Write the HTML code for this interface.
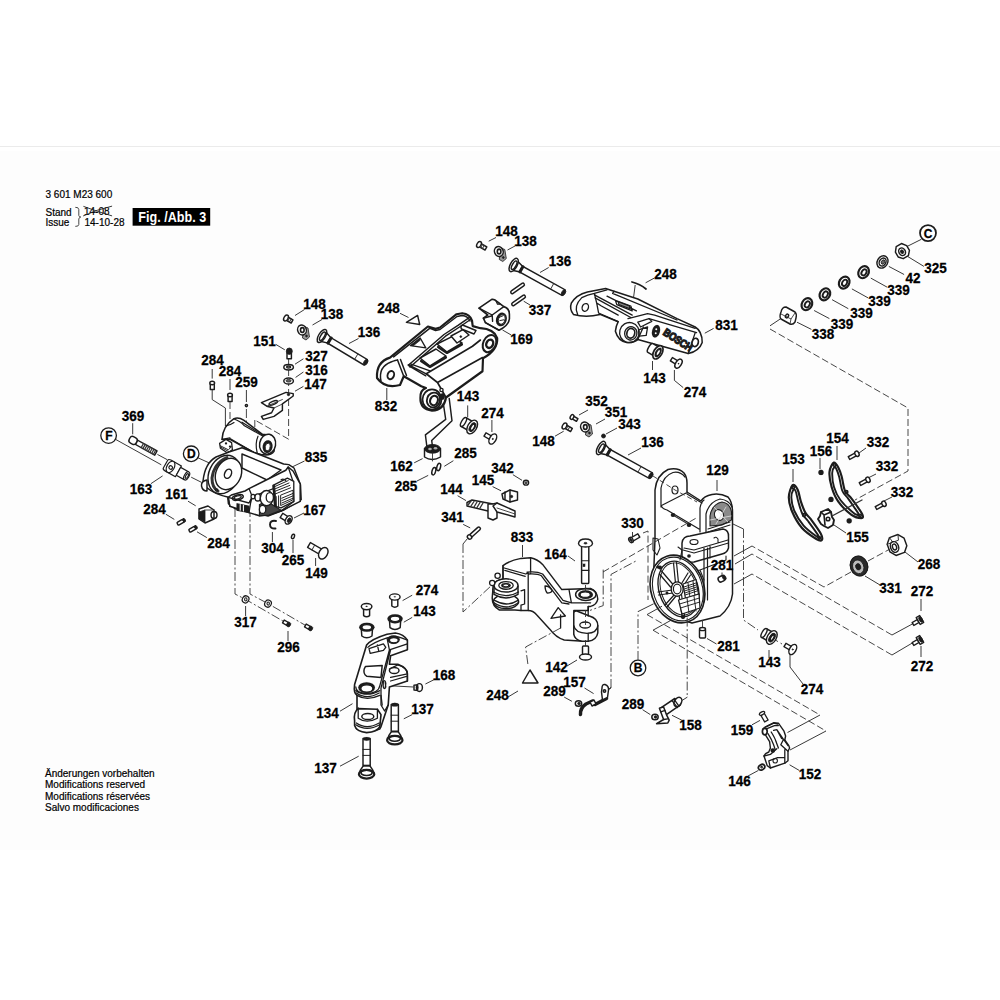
<!DOCTYPE html>
<html><head><meta charset="utf-8"><style>
html,body{margin:0;padding:0;background:#fff;width:1000px;height:1000px;overflow:hidden}
#bg{position:absolute;left:0;top:151px;width:1000px;height:699px;background:#fdfdfd}
#hl{position:absolute;left:0;top:146px;width:1000px;height:1px;background:#ebebeb}
svg{position:absolute;left:0;top:0}
.lb text{font-family:"Liberation Sans",sans-serif;font-weight:bold;font-size:13.5px;text-anchor:middle;fill:#000;stroke:#000;stroke-width:0.25}
.rg{font-family:"Liberation Sans",sans-serif;font-size:10px;fill:#000;stroke:#000;stroke-width:0.2}
.p{fill:#fff;stroke:#1c1c1c;stroke-width:1.45;stroke-linejoin:round;stroke-linecap:round}
.q{fill:none;stroke:#1c1c1c;stroke-width:1.45;stroke-linejoin:round;stroke-linecap:round}
.t{fill:none;stroke:#333;stroke-width:0.9;stroke-linecap:round}
.k{fill:#1c1c1c;stroke:#1c1c1c;stroke-width:0.8}
.g{fill:#666;stroke:#1c1c1c;stroke-width:0.8}
.l{fill:none;stroke:#222;stroke-width:0.9}
.d{fill:none;stroke:#333;stroke-width:0.9;stroke-dasharray:7 3}
.dd{fill:none;stroke:#333;stroke-width:0.9;stroke-dasharray:9 2.5 2 2.5}
.ci{fill:#fff;stroke:#1c1c1c;stroke-width:1.3}
.cl{font-family:"Liberation Sans",sans-serif;font-weight:bold;font-size:12px;text-anchor:middle;fill:#000;stroke:#000;stroke-width:0.3}
</style></head><body>
<div id="bg"></div><div id="hl"></div>
<svg width="1000" height="1000" viewBox="0 0 1000 1000">
<g class="rg">
<text x="45.5" y="198">3 601 M23 600</text>
<text x="45.5" y="216">Stand</text>
<text x="45.5" y="226">Issue</text>
<text x="84" y="215">14-08</text>
<text x="84.5" y="226">14-10-28</text>
<text x="45" y="776.5">Änderungen vorbehalten</text>
<text x="45" y="788">Modifications reserved</text>
<text x="45" y="799.5">Modifications réservées</text>
<text x="45" y="811">Salvo modificaciones</text>
</g>
<path class="t" style="stroke:#222;stroke-width:0.9" d="M83.5 215.8 Q97 209.5 111.7 206.2 M83.8 206.5 Q97 211.5 111.7 215.8" />
<path class="t" style="stroke-width:0.9" d="M75.7 207.3 Q78.6 207 78.8 209.5 L78.8 215.5 Q79 217 80.8 217 Q79 217.4 78.8 219 L78.8 224.5 Q78.6 226.6 75.7 226.4" />
<rect x="132.6" y="208" width="77.6" height="17.7" fill="#000"/>
<text transform="translate(172.2 221.6) scale(0.97 1.08)" font-family="Liberation Sans" font-weight="bold" font-size="13" fill="#fff" text-anchor="middle">Fig. /Abb. 3</text>
<!-- 10_left.svg -->
<!-- circles F, D -->
<circle class="ci" cx="108.6" cy="435.6" r="7.8"/><text class="cl" x="108.8" y="439.6">F</text>
<circle class="ci" cx="191.2" cy="453.8" r="7.8"/><text class="cl" x="191.4" y="457.8">D</text>
<!-- leaders -->
<path class="l" d="M115.8 439.5 L161.3 464.8 M191.2 477.2 L201.6 482.4 M157.4 454.4 L167.1 459.6 M132.7 423.2 V434.3 M150.9 483.7 L162.6 475.9 M197.7 457.7 L212 464.2 M188 501.2 L195.7 505.8 M165.8 514.2 L174.3 519.4 M197 531.8 L206.8 537.6"/>
<!-- bolt 369 -->
<g transform="translate(132.7 440.2) rotate(29)">
<rect class="p" x="-3.5" y="-3.6" width="8" height="7.2" rx="3"/>
<rect class="p" x="4.5" y="-2.4" width="22" height="4.8"/>
<path class="t" style="stroke-width:1.22" d="M11 -2.4 V2.4 M13 -2.4 V2.4 M15 -2.4 V2.4 M17 -2.4 V2.4 M19 -2.4 V2.4 M21 -2.4 V2.4 M23 -2.4 V2.4 M25 -2.4 V2.4"/>
</g>
<!-- 163 -->
<g transform="translate(177 470.5) rotate(29) scale(0.82)">
<path class="p" d="M-16 -5.5 Q-16 -7.5 -12 -7.5 L2 -7.5 L2 7.5 L-12 7.5 Q-16 7.5 -16 5.5 Z"/>
<ellipse class="p" cx="-9" cy="0" rx="4.5" ry="7.5"/>
<circle class="q" cx="-8.5" cy="0.5" r="2.2"/>
<path class="p" d="M2 -5.5 L13 -5.5 L13 5.5 L2 5.5 Z"/>
<ellipse class="p" cx="13.5" cy="0" rx="2.8" ry="5.5"/>
<ellipse class="q" cx="13.8" cy="0" rx="1.4" ry="3.2"/>
</g>
<!-- 161 -->
<path class="p" d="M199 509 L208 506 L214 510 L214 519 L205 523 L199 519 Z"/>
<path class="k" d="M199 512 L205 510 L205 522 L199 519 Z"/>
<ellipse class="q" cx="214" cy="515" rx="3" ry="3.5"/>
<path class="t" d="M205 510 L214 510"/>
<!-- 284 small screws -->
<g transform="translate(181 522) rotate(-30)"><rect class="p" x="-4" y="-1.6" width="7" height="3.2" rx="1"/><ellipse class="k" cx="3.5" cy="0" rx="1.3" ry="2"/></g>
<g transform="translate(192.8 529) rotate(-30)"><rect class="p" x="-4" y="-1.6" width="7" height="3.2" rx="1"/><ellipse class="k" cx="3.5" cy="0" rx="1.3" ry="2"/></g>

<!-- 20_body835.svg -->
<!-- construction lines -->
<path class="l" d="M212.2 369 V378.6 M230 379 V390 M246.4 390 V402 M212.2 390 V399.6 L225.4 408 V426"/>
<path class="d" d="M230 402 V452 M254.8 420 V500 M288.6 359 V439.2 L254.8 420"/>
<path class="dd" d="M246.4 409 V505 M235 508 V594 L245.6 599.4 L288 624 M250 508 V594 L268 603.6 L310 628"/>
<!-- leaders -->
<path class="l" d="M275.8 344.4 L284.8 349.8 M295 364.2 L303.4 358.8 M295.6 377.4 L303.4 372 M295 391.2 L303.4 386.4 M294 518 L304 513 M272.4 532 V542 M293 540 V553 M315.6 558 V566 M245.6 606 V616 M288 631 V641 M290 468 L304.5 461"/>
<!-- top screws 284, dot 259 -->
<path class="p" d="M210.3 384 h4 v5.5 h-4 z"/><ellipse class="p" cx="212.2" cy="383" rx="2.4" ry="1.8"/>
<path class="p" d="M228.1 396 h4 v5.5 h-4 z"/><ellipse class="p" cx="230" cy="395" rx="2.4" ry="1.8"/>
<circle class="q" cx="246.4" cy="405.6" r="1.1"/>
<!-- stack 151 327 316 -->
<rect class="p" x="287" y="353" width="4.4" height="5.8"/>
<ellipse class="k" cx="289.3" cy="351.2" rx="3" ry="3.2"/>
<ellipse class="p" cx="288.6" cy="367.2" rx="4.8" ry="2.7"/><ellipse class="q" cx="288.6" cy="367" rx="2" ry="1"/>
<ellipse class="p" cx="288.6" cy="381" rx="4.8" ry="3"/><ellipse class="g" cx="288.6" cy="380.8" rx="2.5" ry="1.3"/>
<!-- bracket 147 -->
<path class="p" d="M261.4 402.6 L286 392.4 L293.2 393.6 L293.2 396 L282.4 403.8 L282.4 410.4 L274 416.4 L263.2 419.4 L261.4 416.4 L271.6 412.8 L274 408 L266.8 406.2 Z"/>
<ellipse class="q" cx="273.3" cy="402.9" rx="4.5" ry="1.6" transform="rotate(-22 273.3 402.9)"/>
<circle class="k" cx="288.5" cy="394.5" r="1.2"/>
<path class="t" d="M266.8 406.2 L282.4 399.5 M274 408 L282.4 404"/>
<!-- cylinder -->
<g transform="translate(210 405) scale(0.08)">
<path class="p" style="stroke-width:18.90" d="M150 430 Q160 260 300 170 Q360 150 420 190 L660 370 Q780 360 810 460 L800 580 Q760 640 640 620 L560 600 L250 430 Z"/>
<path class="q" style="stroke-width:14.85" d="M250 420 L580 610 M200 260 Q260 250 300 220 M300 175 Q380 200 430 260 L680 400 M150 430 L250 410"/>
<path class="q" style="stroke-width:16.20" d="M400 215 L670 385"/>
<ellipse class="p" style="stroke-width:18.90" cx="720" cy="490" rx="100" ry="125" transform="rotate(10 720 490)"/>
<path class="q" style="stroke-width:14.85" d="M600 390 Q560 480 590 600"/>
<ellipse class="k" cx="720" cy="520" rx="62" ry="80" transform="rotate(10 720 520)"/>
<ellipse class="p" style="stroke-width:10.80" cx="722" cy="525" rx="32" ry="48" transform="rotate(10 722 525)"/>
<path class="p" style="stroke-width:16.20" d="M120 480 L200 430 L270 470 L280 560 L220 600 L130 540 Z"/>
<path class="q" style="stroke-width:12.15" d="M130 510 L230 560 L270 520 M140 530 L230 580"/>
<circle class="k" cx="200" cy="480" r="14"/><circle class="k" cx="250" cy="520" r="14"/>
</g>
<!-- frame 835 -->
<path class="p" d="M203 481 Q205 463 216 457 L229 452 L242 447.7 L283.6 464 L288.8 464.6 L294 468 L300.5 484.8 L301.2 499.7 L283.6 510 L268 516 L249.8 511.4 L235.5 508.8 L228.4 503.6 L227.7 497 Q214 494 206 487 Z"/>
<path class="q" d="M242 454 L281 470 L267 480 L242 468 Z"/>
<path class="p" d="M207 480 Q201 481 201.5 486 Q202.5 491 207 491 Z"/>
<ellipse class="p" cx="224" cy="474.5" rx="15" ry="20" transform="rotate(25 224 474.5)"/>
<path class="q" style="stroke-width:2.97;stroke:#333" d="M227 457.5 Q214 463 212 478 Q212 488 218 491"/>
<ellipse class="p" cx="228.5" cy="474" rx="12.5" ry="16.2" transform="rotate(25 228.5 474)"/>
<ellipse class="q" cx="228" cy="473.8" rx="3.3" ry="4.8" transform="rotate(25 228 473.8)"/>
<circle class="q" style="stroke-width:1.08" cx="216.6" cy="490" r="1.2"/>
<g transform="translate(225 455) scale(0.08)">
<path class="p" style="stroke-width:18.90" d="M40 530 L80 500 L250 450 L300 420 L760 190 L790 150 L850 200 L940 360 L940 580 L700 700 L550 750 L430 760 L300 720 L60 640 Z"/>
<path class="q" style="stroke-width:16.20" d="M300 420 L340 520 L850 330 L790 150 M340 520 L320 600 L300 720 M60 640 L40 530 L300 600 L340 520 M850 330 L860 580 L700 700"/>
<path class="k" style="stroke-width:13.50" d="M150 610 L300 640 L300 720 L150 690 Z"/>
<path class="q" style="stroke:#fff;stroke-width:13.50" d="M190 620 L190 690 M230 630 L230 700"/>
<ellipse class="q" style="stroke-width:18.90" cx="160" cy="530" rx="70" ry="32" transform="rotate(-15 160 530)"/>
<ellipse class="q" style="stroke-width:13.50" cx="160" cy="530" rx="45" ry="18" transform="rotate(-15 160 530)"/>
<path class="g" style="fill:#444;stroke-width:13.50" d="M430 620 Q480 580 560 600 L700 690 L550 750 L430 760 Z"/>
<ellipse class="p" style="stroke-width:16.20" cx="350" cy="520" rx="25" ry="28"/>
<ellipse class="p" style="stroke-width:16.20" cx="410" cy="530" rx="35" ry="45"/>
<ellipse class="p" style="stroke-width:18.90" cx="520" cy="540" rx="80" ry="95"/>
<ellipse class="p" style="stroke-width:16.20" cx="560" cy="530" rx="45" ry="60"/>
<ellipse class="p" style="stroke-width:16.20" cx="470" cy="680" rx="40" ry="50"/>
<path class="p" style="stroke-width:16.20" d="M600 380 L780 290 L860 330 L860 580 L700 660 L620 640 Z"/>
<path class="q" style="stroke-width:12.15" d="M610 400 L790 320 M610 430 L800 350 M610 460 L810 380 M620 490 L820 410 M700 500 L850 440 L850 560 L700 630 Z M710 540 L850 480 M710 570 L850 510 M710 600 L850 540 M640 520 L640 640 M670 510 L670 650"/>
<path class="k" style="stroke-width:10.80" d="M600 380 L620 640 L640 640 L620 375 Z"/>
<path class="q" style="stroke-width:13.50" d="M700 310 Q730 290 760 320"/>
</g>

<!-- 167 304 265 149 -->
<g transform="translate(284 517) rotate(32)"><rect class="p" x="-3" y="-2.5" width="7" height="5"/><ellipse class="p" cx="5.5" cy="0" rx="3" ry="4.6"/><ellipse class="k" cx="6" cy="0" rx="1.5" ry="2.5"/></g>
<path class="q" style="stroke-width:1.89" d="M276 521 Q270 520 270 524.5 Q270 529 275.5 528.5"/>
<ellipse class="q" cx="293" cy="536.4" rx="1.4" ry="2.3" transform="rotate(20 293 536.4)"/>
<g transform="translate(309 545) rotate(30)"><rect class="p" x="0" y="-2.8" width="15" height="5.6"/><path class="t" d="M5 -2.8 V2.8"/><ellipse class="p" cx="16.5" cy="0" rx="4.2" ry="6.2"/></g>
<!-- 317 washers, 296 screws -->
<ellipse class="p" style="stroke-width:1.22" cx="245.6" cy="599.4" rx="3.2" ry="3.6" transform="rotate(30 245.6 599.4)"/><ellipse class="q" style="stroke-width:1.08" cx="245.8" cy="599.4" rx="1.2" ry="1.6"/>
<ellipse class="p" style="stroke-width:1.22" cx="268" cy="603.6" rx="3.2" ry="3.6" transform="rotate(30 268 603.6)"/><ellipse class="q" style="stroke-width:1.08" cx="268.2" cy="603.6" rx="1.2" ry="1.6"/>
<g transform="translate(286 623) rotate(30)"><rect class="p" x="-3" y="-1.7" width="5" height="3.4"/><ellipse class="k" cx="3" cy="0" rx="2" ry="2.4"/></g>
<g transform="translate(308 627) rotate(30)"><rect class="p" x="-3" y="-1.7" width="5" height="3.4"/><ellipse class="k" cx="3" cy="0" rx="2" ry="2.4"/></g>

<!-- 30_pins.svg -->
<!-- left set 148 138 136 -->
<path class="l" d="M295 315.5 L304.5 309.5 M312.5 325 L322 319.5 M349 343.5 L358.5 338.5"/>
<g transform="translate(286 318) rotate(30)"><rect class="p" x="0" y="-1.8" width="7" height="3.6"/><ellipse class="p" cx="0" cy="0" rx="2" ry="3.2"/><path class="t" d="M3 -1.8 V1.8 M5 -1.8 V1.8"/></g>
<path class="g" style="fill:#999" d="M303 326 L308 328 L309.5 337 L306 340 L302.5 338 L303 332 Z"/><ellipse class="p" cx="302" cy="330" rx="4.3" ry="5" transform="rotate(-20 302 330)"/><ellipse class="q" style="stroke-width:1.62" cx="302.3" cy="330" rx="1.8" ry="2.4"/><circle class="k" cx="306.5" cy="336" r="0.9"/>
<g transform="translate(322 336) rotate(31)"><rect class="p" x="2" y="-3.2" width="49" height="6.4"/><path class="p" d="M1 -5.5 L8 -3.2 L8 3.2 L1 5.5 Z"/><ellipse class="p" cx="0" cy="0" rx="3.4" ry="7.4"/><ellipse class="q" cx="0.5" cy="0" rx="1.8" ry="4.8"/><path class="q" style="stroke-width:2.70" d="M9 -3.2 V3.2"/><path class="t" d="M40 -3.2 V3.2"/><ellipse class="k" cx="51" cy="0" rx="1.8" ry="3.2"/></g>
<!-- top set 148 138 136 337 169 -->
<path class="l" d="M488.7 241.2 L496 237.5 M507.5 250 L515 246 M540 272.5 L548.7 267.5 M523.7 301.2 L530 305 M502.5 330 L511.2 335"/>
<g transform="translate(479 244.5) rotate(30)"><rect class="p" x="0" y="-1.8" width="8" height="3.6"/><ellipse class="p" cx="0" cy="0" rx="2" ry="3.2"/><path class="t" d="M3 -1.8 V1.8 M5 -1.8 V1.8"/></g>
<path class="g" style="fill:#999" d="M499.8 247.5 L504.8 249.5 L506.3 258.5 L502.8 261.5 L499.3 259.5 L499.8 253.5 Z"/><ellipse class="p" cx="498.8" cy="251.5" rx="4.3" ry="5" transform="rotate(-20 498.8 251.5)"/><ellipse class="q" style="stroke-width:1.62" cx="499.1" cy="251.5" rx="1.8" ry="2.4"/><circle class="k" cx="503.3" cy="257.5" r="0.9"/>
<g transform="translate(513.7 265) rotate(29)"><rect class="p" x="2" y="-3.2" width="55" height="6.4"/><path class="p" d="M1 -5.5 L8 -3.2 L8 3.2 L1 5.5 Z"/><ellipse class="p" cx="0" cy="0" rx="3.4" ry="7.4"/><ellipse class="q" cx="0.5" cy="0" rx="1.8" ry="4.8"/><path class="q" style="stroke-width:2.70" d="M9 -3.2 V3.2"/><path class="t" d="M44 -3.2 V3.2"/><ellipse class="k" cx="57" cy="0" rx="1.8" ry="3.2"/></g>
<g transform="translate(511 293) rotate(-35)"><rect class="p" x="0" y="-1.5" width="16" height="3" rx="1.5"/></g>
<g transform="translate(512 305) rotate(-35)"><rect class="p" x="0" y="-1.5" width="16" height="3" rx="1.5"/></g>
<g transform="translate(475 295) scale(0.04)">
<path class="p" style="stroke-width:40.50" d="M100 330 L420 110 Q480 100 520 140 L720 290 Q860 330 860 480 L860 600 Q840 760 600 880 L260 690 L210 580 L320 500 Z"/>
<path class="q" style="stroke-width:35.10" d="M100 330 L430 500 L720 290 M430 500 L440 660 M210 580 L430 520 M260 690 L600 880"/>
<path class="g" style="fill:#777;stroke-width:27.00" d="M520 140 L560 230 L640 230 Z"/>
<ellipse class="k" cx="660" cy="610" rx="135" ry="175" transform="rotate(15 660 610)"/>
<ellipse class="p" style="stroke-width:18.90" cx="670" cy="610" rx="80" ry="120" transform="rotate(15 670 610)"/>
<path class="q" style="stroke-width:24.30" d="M600 560 L700 520 M620 640 L720 620"/>
</g>
<!-- mid set 148 352 351 343 136 -->
<path class="l" d="M555 436.2 L563.7 431.2 M579 415 L588 410 M596 424 L605 419 M606 434 L617 428 M628 455 L641 448"/>
<g transform="translate(564.5 426) rotate(30)"><rect class="p" x="0" y="-1.8" width="8" height="3.6"/><ellipse class="p" cx="0" cy="0" rx="2" ry="3.2"/><path class="t" d="M3 -1.8 V1.8 M5 -1.8 V1.8"/></g>
<g transform="translate(572 417) rotate(30)"><rect class="p" x="0" y="-1.5" width="6" height="3"/><ellipse class="p" cx="0" cy="0" rx="1.6" ry="2.5"/></g>
<path class="g" style="fill:#999" d="M586 423 L591 425 L592.5 434 L589 437 L585.5 435 L586 429 Z"/><ellipse class="p" cx="585" cy="427" rx="4.3" ry="5" transform="rotate(-20 585 427)"/><ellipse class="q" style="stroke-width:1.62" cx="585.3" cy="427" rx="1.8" ry="2.4"/><circle class="k" cx="589.5" cy="433" r="0.9"/>
<circle class="k" cx="603.5" cy="436" r="2"/>
<g transform="translate(601 448) rotate(29)"><rect class="p" x="2" y="-3.2" width="55" height="6.4"/><path class="p" d="M1 -5.5 L8 -3.2 L8 3.2 L1 5.5 Z"/><ellipse class="p" cx="0" cy="0" rx="3.4" ry="7.4"/><ellipse class="q" cx="0.5" cy="0" rx="1.8" ry="4.8"/><path class="q" style="stroke-width:2.70" d="M9 -3.2 V3.2"/><path class="t" d="M44 -3.2 V3.2"/><ellipse class="k" cx="57" cy="0" rx="1.8" ry="3.2"/></g>

<!-- 40_links.svg -->
<!-- 832 link -->
<path class="l" d="M400 313.3 L408.5 317.5 M386.8 388 V400"/>
<path class="q" d="M406.4 322.4 L417.6 315.4 L419.7 324.5 Z"/>
<path class="p" style="stroke-width:2.16" d="M377 378 Q376 362 390 357.6 L427.9 326.5 L435.6 328.9 L440 327.5 L456.6 314.2 L462.2 313.2 Q470 314 472 320.5 L472.7 326.1 L480.4 328.2 Q494 329 497.2 338 Q498 350 483 358.3 L482.5 371.25 L446 397.5 Q444 410 432 410.6 Q420 409 420.4 398 Q420 390 426 388 L421.25 386.25 L403.75 376.25 L400 385 Q385 389 377 378 Z"/>
<path class="q" style="stroke-width:1.49" d="M381 381 Q378 367 391 362 Q396 360 397.5 360 M393.6 356.9 L430 328.2 L435.6 330.5 L440 329.5 L457 316.5 L462 315.5 Q468 316 470 321"/>
<ellipse class="q" style="stroke-width:1.89" cx="390.8" cy="375.1" rx="3.2" ry="4.2" transform="rotate(20 390.8 375.1)"/>
<path class="q" style="stroke-width:1.49" d="M408.3 365.3 L444 334.5 L458 325.4 L469.2 317.7 M410 367 L445.5 336.2 L459.5 327 L470.5 319.5"/>
<path class="q" style="stroke-width:1.35" d="M410.4 345.7 L420.2 338 L425.8 347.8 Z"/>
<path class="k" style="stroke-width:0.68" d="M411.5 345 L419.5 339 L420.5 340 L413 346 Z"/>
<path class="q" style="stroke-width:1.49" d="M397.5 360 L403.75 376.25 M400.5 359.5 L406.5 375.5"/>
<path class="q" style="stroke-width:1.35" d="M408.3 364.6 L427.2 374.4 M410.4 363.9 L430 370.9 M409 366 L425.8 375.8"/>
<path class="p" style="stroke-width:1.49" d="M420 358 L436 349 L446 356 L430 366 Z"/>
<path class="q" style="stroke-width:2.16" d="M421 361 L430 367 L446 357.5"/>
<path class="p" style="stroke-width:1.49" d="M437 344 L452 336.6 L462 343 L447 352 Z"/>
<path class="q" style="stroke-width:2.16" d="M438 347 L447 353 L462 344.5"/>
<path class="p" style="stroke-width:1.49" d="M451 336 L463 329.6 L469 335 L457 343 Z"/>
<circle class="k" cx="460.8" cy="336.6" r="0.9"/>
<path class="p" style="stroke-width:1.49" d="M462.5 325 L476 330.5 L474 334 L461.5 329 Q460 326.5 462.5 325 Z"/>
<path class="q" style="stroke-width:1.62" d="M426.25 373.75 L472.5 346.25 L480.4 340 M437.5 382.5 L482.5 357.5 M426.25 373.75 L437.5 382.5 L446 397.5"/>
<ellipse class="p" style="stroke-width:2.03" cx="489.5" cy="343.6" rx="6.3" ry="9" transform="rotate(25 489.5 343.6)"/>
<ellipse class="p" style="stroke-width:2.43" cx="489.7" cy="343.8" rx="3.3" ry="4.3" transform="rotate(25 489.7 343.8)"/>
<ellipse class="q" style="stroke-width:1.76" cx="432" cy="399.5" rx="9.5" ry="10.2"/>
<ellipse class="p" style="stroke-width:1.89" cx="433.5" cy="400" rx="6.5" ry="7.5" transform="rotate(20 433.5 400)"/>
<ellipse class="p" style="stroke-width:2.16" cx="434" cy="400.5" rx="3.8" ry="4.8" transform="rotate(20 434 400.5)"/>
<ellipse class="k" cx="442.5" cy="396.5" rx="2" ry="3"/><circle class="p" style="stroke-width:1.35" cx="441.5" cy="390" r="1.6"/>
<!-- wire 162 + connector -->
<path class="q" d="M449.2 398.4 L452 420.8 L431.7 440.4 L432.4 446 M443.6 405.4 L445.7 419.4 L425.4 434.8 L426.8 446"/>
<path class="p" d="M424.5 448.5 L424.5 457 Q432 462 440.5 457 L440.5 448.5 Z"/>
<ellipse class="k" cx="432.5" cy="448.8" rx="8" ry="4.4"/>
<ellipse style="fill:#aaa" cx="430" cy="449" rx="1.8" ry="1.2"/><ellipse style="fill:#aaa" cx="435.5" cy="448.3" rx="1.8" ry="1.2"/>
<path class="t" d="M432.5 453 V461"/>
<path class="l" d="M414.2 462.8 L422.6 458.6 M444.3 466.3 L453.4 460.7 M417 481 L428.2 475.4"/>
<ellipse class="p" cx="433.8" cy="471.2" rx="1.8" ry="3.8" transform="rotate(15 433.8 471.2)"/>
<ellipse class="p" cx="438.7" cy="467" rx="1.8" ry="3.8" transform="rotate(15 438.7 467)"/>
<!-- 143 bushing + 274 screw (mid-left) -->
<path class="l" d="M467.7 405.4 V417.3 M491.9 420 V432"/>
<g transform="translate(463.5 422) rotate(30)"><rect class="p" x="0" y="-5" width="9" height="10"/><ellipse class="p" cx="0" cy="0" rx="2" ry="5"/><ellipse class="p" cx="10" cy="0" rx="4.5" ry="7.5"/><ellipse class="k" cx="10.3" cy="0" rx="2.6" ry="5"/><ellipse class="p" cx="10.5" cy="0" rx="1.6" ry="3.4"/></g>
<g transform="translate(485 434.5) rotate(30)"><rect class="p" x="0" y="-2" width="7" height="4"/><ellipse class="p" cx="9" cy="0" rx="3.2" ry="5.5"/><circle class="k" cx="9" cy="0" r="0.6"/></g>
<!-- 342 145 144 341 -->
<path class="l" d="M512.9 474.7 L522 480.3 M492.6 486.6 L501 490.8 M457.6 495.7 L466 500.6 M463.2 524.4 L470.2 527.9"/>
<ellipse class="p" cx="526" cy="482.7" rx="2.6" ry="2.4"/><ellipse class="g" cx="526" cy="482.7" rx="1" ry="1"/>
<path class="p" d="M502 494 L510 490 L517.5 492 L517.5 500 L510 502 L503 499 Z"/>
<path class="q" d="M505 492 L505 499 M510 490 L510 502"/><circle class="k" cx="511.5" cy="496.5" r="1.2"/>
<path class="p" d="M467 502.5 L472 500 L493 504 L493 509 L488 511 L467 506 Z"/>
<path class="t" style="stroke-width:1.35" d="M471 501 L468 505 M474 501.5 L471 506 M477 502 L474 507 M480 502.5 L477 507.5 M483 503 L480 508"/>
<path class="p" d="M488 504 L493 504 L497 503 L497 518 L493 520 L488 518 Z"/>
<path class="p" d="M493 506 L497 503 L515 511 L515 517 L497 512 Z"/>
<path class="t" d="M497 508 L515 514"/>
<g transform="translate(469.5 537) rotate(-42)"><rect class="p" x="0" y="-1.6" width="14" height="3.2" rx="1.4"/><ellipse class="p" cx="0" cy="0" rx="2" ry="2.3"/></g>

<!-- 50_bosch.svg -->
<!-- 831 bosch arm -->
<path class="l" d="M645.6 282.8 L654.4 278 M704.8 333.2 L713.6 328.4 M652.5 361 V370 M674.4 370 V380.4 L683.2 387.6"/>
<path class="q" style="stroke-width:1.76" d="M632 282 Q640 284 646 289"/>
<path class="l" d="M635.2 285 L633.6 297.2"/>
<g transform="translate(565 285) scale(0.14)">
<path class="p" style="stroke-width:10.80" d="M60 210 Q30 170 45 130 Q80 70 160 50 L290 25 L350 45 L520 100 L800 240 L930 300 Q980 330 980 410 Q960 470 880 490 L520 390 Q490 415 440 410 Q380 400 360 330 Q365 290 380 262 L250 210 Q150 235 60 210 Z"/>
<path class="q" style="stroke-width:9.45" d="M90 210 Q60 150 120 90 Q160 70 210 60 Q230 140 240 200 M210 60 L300 35 M240 200 L380 262 M230 130 L260 150 L380 215"/>
<ellipse class="q" style="stroke-width:9.45" cx="145" cy="160" rx="22" ry="28" transform="rotate(20 145 160)"/>
<path class="q" style="stroke-width:9.45" d="M210 70 L480 215 M215 92 L470 232 M300 80 L510 185 M350 45 L340 60 L800 250 M360 110 L470 150 L480 185 L370 140 Z"/>
<path class="g" style="fill:#888;stroke-width:8.10" d="M380 120 L460 150 L465 170 L385 140 Z"/>
<path class="q" style="stroke-width:9.45" d="M450 240 L590 205 L640 215 L930 310 M600 240 L940 340 M520 390 L560 300 M880 490 L930 340"/>
<ellipse class="q" style="stroke-width:9.45" cx="460" cy="340" rx="70" ry="72" transform="rotate(15 460 340)"/>
<ellipse class="q" style="stroke-width:9.45" cx="470" cy="345" rx="44" ry="48" transform="rotate(15 470 345)"/>
<ellipse class="p" style="stroke-width:12.15" cx="470" cy="345" rx="28" ry="35" transform="rotate(15 470 345)"/>
<path class="q" style="stroke-width:9.45" d="M520 265 L600 240 L620 260 L540 300 Z M525 320 L590 300 L580 360 L530 365 Z"/>
<ellipse class="k" cx="650" cy="330" rx="28" ry="46" transform="rotate(15 650 330)"/>
<circle style="fill:#fff" cx="652" cy="316" r="7"/><circle style="fill:#fff" cx="648" cy="344" r="7"/>
<text x="0" y="0" transform="translate(695 352) rotate(33) scale(0.85 1)" style="font-family:'Liberation Sans';font-weight:bold;font-size:78px;fill:#1c1c1c;stroke:#1c1c1c;stroke-width:8.10;letter-spacing:-2px">BOSCH</text>
<ellipse class="p" style="stroke-width:12.15" cx="930" cy="410" rx="22" ry="30" transform="rotate(15 930 410)"/>
<!-- 143 bushing -->
<g transform="translate(610 450) rotate(30)">
<path class="p" style="stroke-width:10.80" d="M0 -36 L60 -36 L60 36 L0 36 Q-14 36 -14 0 Q-14 -36 0 -36 Z"/>
<ellipse class="p" style="stroke-width:12.15" cx="62" cy="0" rx="30" ry="52"/>
<ellipse class="k" cx="64" cy="0" rx="20" ry="38"/>
<ellipse class="p" style="stroke-width:8.10" cx="65" cy="0" rx="11" ry="24"/>
</g>
<!-- 274 screw -->
<g transform="translate(760 530) rotate(32)">
<rect class="p" style="stroke-width:10.80" x="0" y="-14" width="55" height="28"/>
<ellipse class="p" style="stroke-width:10.80" cx="60" cy="0" rx="20" ry="36"/>
<circle class="k" cx="60" cy="0" r="5"/>
</g>
</g>

<!-- 60_h129.svg -->
<!-- 129 housing -->
<path class="l" d="M717 480 V491 M632.5 532 V538"/>
<g transform="translate(640 460) scale(0.1)">
<path class="p" style="stroke-width:14.85" d="M150 790 L150 300 Q165 150 280 95 Q380 70 440 130 Q470 170 470 230 L470 320 L610 410 Q640 360 720 345 Q800 330 880 370 Q925 420 925 520 L925 1340 Q910 1470 800 1560 L520 1630 L300 1560 L130 1300 L150 790 Z"/>
<path class="q" style="stroke-width:12.15" d="M210 470 L210 280 Q230 160 330 125 Q400 110 450 170 M210 450 Q220 490 270 500 L590 690 M470 320 L470 340 L620 430 M660 720 L660 540 Q690 420 800 390 Q890 400 920 470 M600 720 L600 480 Q610 420 640 400"/>
<ellipse class="q" style="stroke-width:12.15" cx="350" cy="300" rx="30" ry="40"/>
<path class="q" style="stroke-width:10.80" d="M215 455 L460 330"/>
<path class="g" style="fill:#8a8a8a;stroke-width:10.80" d="M700 560 Q720 440 820 420 Q900 430 915 520 L915 600 L820 650 L700 660 Z"/>
<ellipse style="fill:#fff;stroke:#1c1c1c;stroke-width:10.80" cx="790" cy="550" rx="45" ry="55" transform="rotate(-20 790 550)"/>
<path class="t" style="stroke:#ddd;stroke-width:8.10" d="M740 470 L880 620 M860 470 L760 640 M700 600 L910 560"/>
<path class="q" style="stroke-width:12.15" d="M680 690 L900 620 M680 720 L900 650"/>
<path class="p" style="stroke-width:14.85" d="M420 830 Q430 760 500 760 L830 690 Q890 700 885 770 L885 880 Q870 930 820 940 L540 1020 Q440 1030 420 960 Z"/>
<ellipse class="q" style="stroke-width:12.15" cx="540" cy="820" rx="40" ry="25"/>
<path class="q" style="stroke-width:10.80" d="M440 880 L540 900 L880 800 M430 900 L540 930 L885 830 M700 850 L700 980 M740 780 Q760 760 780 790 L780 830"/>
<path class="q" style="stroke-width:10.80" d="M450 1000 L460 1080 Q520 1120 600 1100 L860 1000 L860 960 M600 1100 L640 1200"/>
<ellipse class="p" style="stroke-width:16.20" cx="375" cy="1290" rx="265" ry="345" transform="rotate(-18 375 1290)"/>
<ellipse class="q" style="stroke-width:10.80" cx="378" cy="1290" rx="245" ry="325" transform="rotate(-18 378 1290)"/>
<ellipse class="q" style="stroke-width:13.50" cx="385" cy="1290" rx="195" ry="285" transform="rotate(-18 385 1290)"/>
<ellipse class="q" style="stroke-width:9.45" cx="388" cy="1290" rx="178" ry="268" transform="rotate(-18 388 1290)"/>
<path class="q" style="stroke-width:12.15" d="M335 1250 L215 1110 M305 1270 L195 1140 M325 1300 L180 1320 M330 1330 L185 1350 M355 1230 L335 1030 M385 1230 L365 1025 M410 1245 L480 1130 M430 1265 L505 1150 M345 1345 L250 1450 M360 1360 L270 1470 M390 1350 L420 1560 M415 1345 L445 1555"/>
<ellipse class="p" style="stroke-width:13.50" cx="372" cy="1290" rx="60" ry="72"/>
<ellipse class="q" style="stroke-width:12.15" cx="372" cy="1290" rx="38" ry="48"/>
<path class="p" style="stroke-width:12.15" d="M430 1240 L560 1195 L585 1340 L455 1385 Z"/>
<path class="q" style="stroke-width:9.45" d="M440 1270 L565 1228 M443 1290 L568 1248 M446 1310 L571 1268 M449 1330 L574 1288 M452 1350 L577 1308 M480 1230 L500 1375 M530 1212 L550 1358"/>
<path class="p" style="stroke-width:12.15" d="M385 1400 L590 1340 L600 1480 L420 1540 Z"/>
<path class="q" style="stroke-width:9.45" d="M395 1440 L595 1380 M405 1480 L598 1420 M470 1380 L490 1530 M540 1360 L560 1510"/>
<circle class="k" cx="200" cy="1075" r="20"/><circle class="k" cx="430" cy="1570" r="20"/><circle class="k" cx="270" cy="1330" r="14"/>
<path class="q" style="stroke-width:12.15" d="M640 880 L640 1420 M675 880 L675 1400"/>
<circle class="k" cx="180" cy="1070" r="15"/><circle class="k" cx="430" cy="1570" r="15"/><circle class="k" cx="490" cy="960" r="18"/>
<path class="q" style="stroke-width:10.80" d="M130 780 L180 790 L200 880 L170 950 L130 900 Z M380 870 L420 900 L400 1000"/>
<path class="k" style="stroke-width:10.80" d="M330 550 m-18 0 a18 14 0 1 0 36 0 a18 14 0 1 0 -36 0 M490 650 m-18 0 a18 14 0 1 0 36 0 a18 14 0 1 0 -36 0"/>
<path class="t" style="stroke-width:10.80" d="M345 560 L480 640"/>
</g>
<!-- 281 pins, 330 screw -->
<path class="l" d="M722 572.5 V575.5"/>
<g transform="translate(718.5 580.5) rotate(-28)"><rect class="p" x="0" y="-2.7" width="7" height="5.4" rx="2.5"/><ellipse class="k" cx="6.5" cy="0" rx="1.6" ry="2.7"/></g>
<g transform="translate(702.5 633.5)"><rect class="p" x="-3" y="-4.5" width="6" height="9" rx="1"/><ellipse class="p" cx="0" cy="-4.5" rx="3" ry="1.6"/></g>
<path class="d" d="M702.5 620 V628"/><path class="l" d="M707 638.5 L716.5 644"/>
<g transform="translate(631 540) rotate(-30)"><rect class="p" x="0" y="-2" width="9" height="4"/><ellipse class="p" cx="0" cy="0" rx="2" ry="2.8"/><ellipse class="k" cx="0" cy="0" rx="1" ry="1.6"/></g>

<path class="d" style="stroke-dasharray:5 3" d="M653 476 L675 490 L697 502"/>

<!-- 70_h833.svg -->
<!-- 833 pivot -->
<path class="l" d="M522.5 545 V557 M568 556 L575 561 M567 666 L577 660"/>
<g transform="translate(485 550) scale(0.12)">
<path class="p" style="stroke-width:12.15" d="M150 130 Q200 90 300 70 L380 65 Q440 80 480 120 L640 330 L880 320 Q935 340 940 410 Q930 460 880 470 L860 470 L860 505 L740 505 L740 700 Q760 750 820 760 L660 750 Q590 730 540 660 L430 540 Q400 505 360 505 L300 505 L250 500 L120 500 Q60 470 60 400 L65 340 Q60 270 120 250 L150 250 Z"/>
<path class="p" style="stroke-width:12.15" d="M740 530 Q740 505 770 510 L870 550 Q940 570 940 630 L940 690 Q930 750 860 760 L810 760 Q745 750 740 700 Z"/>
<path class="q" style="stroke-width:10.80" d="M740 630 Q750 690 850 695 Q935 690 940 630"/>
<path class="q" style="stroke-width:10.80" d="M150 130 L150 250 M160 150 L340 200 L360 190 L360 505 M165 170 L335 220 M380 65 L380 190 M350 185 Q430 175 480 200 L650 420 L720 440 L880 440 M360 200 Q440 195 470 215 L640 440 L700 450 M700 330 L720 440 M860 470 L860 550 M860 695 L860 760 M300 505 L300 460 L330 450 L330 330 L300 340"/>
<path class="q" style="stroke-width:10.80" d="M500 300 Q540 300 560 340 Q550 360 520 360 Q500 340 500 300 Z"/>
<ellipse class="q" style="stroke-width:12.15" cx="840" cy="370" rx="85" ry="50"/>
<ellipse class="k" cx="838" cy="372" rx="62" ry="36"/>
<ellipse class="p" style="stroke-width:9.45" cx="835" cy="372" rx="42" ry="22"/>
<ellipse class="q" style="stroke-width:10.80" cx="835" cy="625" rx="45" ry="25"/>
<ellipse class="p" style="stroke-width:12.15" cx="175" cy="430" rx="105" ry="58"/>
<path class="q" style="stroke-width:10.80" d="M75 440 Q180 510 280 440 M80 420 Q180 480 275 420"/>
<path class="p" style="stroke-width:12.15" d="M75 300 L75 370 Q175 430 275 370 L275 300 Z"/>
<ellipse class="p" style="stroke-width:12.15" cx="175" cy="295" rx="100" ry="55"/>
<ellipse class="q" style="stroke-width:10.80" cx="175" cy="295" rx="60" ry="32"/>
<ellipse class="k" cx="175" cy="295" rx="40" ry="20"/>
<ellipse class="p" style="stroke-width:8.10" cx="175" cy="295" rx="24" ry="12"/>
<path class="q" style="stroke-width:10.80" d="M70 350 Q175 410 280 350"/>
<circle class="p" style="stroke-width:10.80" cx="60" cy="275" r="22"/><circle class="p" style="stroke-width:10.80" cx="105" cy="215" r="22"/>
<path class="q" style="stroke-width:10.80" d="M550 570 L610 480 L670 550 Z"/>
<path class="q" style="stroke-width:10.80" d="M630 540 L630 650"/>
</g>
<!-- pin 164 -->
<g transform="translate(485 550) scale(0.12)">
<rect class="p" style="stroke-width:12.15" x="805" y="-60" width="60" height="340" rx="10"/>
<path class="q" style="stroke-width:9.45" d="M805 90 L865 90 M805 170 L865 170"/>
<rect class="k" x="815" y="115" width="20" height="25"/>
</g>
<path class="p" d="M578.5 543.5 Q579 539 585.5 539 Q592 539 592.5 543.5 Q592 547 585.5 547 Q579 547 578.5 543.5 Z"/>
<ellipse class="k" cx="585.5" cy="543.2" rx="1.5" ry="0.8"/>
<path class="d" d="M585.5 585 V595 M585.5 610 V625"/>
<!-- pin 142 -->
<rect class="p" x="582.5" y="646" width="6" height="10" rx="1"/>
<ellipse class="p" cx="585.5" cy="657" rx="6" ry="3"/>
<path class="d" d="M585.5 640 V646"/>
<!-- triangles 248 -->
<path class="q" d="M522.5 683 L530 670 L538 683 Z"/>
<path class="l" d="M508 697 L518 691"/>
<path class="dd" d="M560.6 628 L525.6 647 L528 665"/>
<!-- circle B -->
<circle class="ci" cx="638" cy="668" r="7.8"/><text class="cl" x="638.2" y="672">B</text>
<path class="dd" d="M638 660 V611.6"/><path class="l" d="M638 611.6 L653.6 603.8"/>

<!-- 80_right.svg -->
<!-- washers stack -->
<circle class="ci" style="stroke-width:1.76" cx="928" cy="233.1" r="8"/><text class="cl" x="928.2" y="237.6">C</text>
<path class="l" d="M906.8 246.6 L921.2 239.4 M907.7 256.5 L923.9 266.4 M888.8 266.4 L904.1 274.5 M870.8 278.1 L887 287.1 M851.9 288.9 L868.1 297.9 M832.1 299.7 L848.3 308.7 M814.1 310.5 L829.4 318.6 M797 322.2 L811.4 329.4 M780.8 318.6 L770 325.8"/>
<g transform="translate(902.3 251.1) rotate(-30)"><path class="p" d="M-6.5 -2.5 L-3 -7 L3 -7 L6.5 -2.5 L6.5 3 L3 7 L-3 7 L-6.5 3 Z"/><ellipse class="q" cx="-0.5" cy="0.5" rx="3.2" ry="4"/><ellipse class="k" cx="-0.5" cy="0.5" rx="1.5" ry="2"/></g>
<ellipse class="p" cx="882.5" cy="261.9" rx="5.2" ry="6.5" transform="rotate(30 882.5 261.9)"/><ellipse class="q" cx="882.7" cy="262" rx="3.2" ry="4.2" transform="rotate(30 882.5 261.9)"/><ellipse class="g" cx="883" cy="262" rx="1.6" ry="2.3" transform="rotate(30 883 262)"/>
<g class="wsh">
<ellipse class="p" style="stroke-width:2.16" cx="863.6" cy="272.2" rx="5" ry="6.3" transform="rotate(30 863.6 272.2)"/><ellipse class="q" style="stroke-width:1.89" cx="864" cy="272.4" rx="2.3" ry="3.3" transform="rotate(30 864 272.4)"/>
<ellipse class="p" style="stroke-width:2.16" cx="844.2" cy="282.6" rx="5" ry="6.3" transform="rotate(30 844.2 282.6)"/><ellipse class="q" style="stroke-width:1.89" cx="844.6" cy="282.8" rx="2.3" ry="3.3" transform="rotate(30 844.6 282.8)"/>
<ellipse class="p" style="stroke-width:2.16" cx="824.9" cy="294.3" rx="5" ry="6.3" transform="rotate(30 824.9 294.3)"/><ellipse class="q" style="stroke-width:1.89" cx="825.3" cy="294.5" rx="2.3" ry="3.3" transform="rotate(30 825.3 294.5)"/>
<ellipse class="p" style="stroke-width:2.16" cx="806.9" cy="304.2" rx="5" ry="6.3" transform="rotate(30 806.9 304.2)"/><ellipse class="q" style="stroke-width:1.89" cx="807.3" cy="304.4" rx="2.3" ry="3.3" transform="rotate(30 807.3 304.4)"/>
</g>
<path class="p" d="M781 312 Q782 307 786 307 L795 312 Q797 314 796 318 L795 322 Q793 325 790 324 L781 319 Q779 317 781 312 Z"/>
<path class="t" d="M781 314 L791 319 L795 313 M791 319 L790 324"/>
<ellipse class="q" cx="787" cy="316" rx="1.4" ry="2" transform="rotate(30 787 316)"/>
<path class="d" d="M770 329 L908 408 V471 L855 500"/>
<!-- plates 153 154 -->
<path class="l" d="M793 469 V482 M837 446 V460 M820 458 V469 M834 525 L846 533 M859 453 L866 448 M868 478 L876 474 M884 501 L892 497"/>
<g transform="translate(740 400) scale(0.2)">
<path class="p" style="stroke-width:10.80" d="M263.0 425.5 C255.7 431.9 244.4 464.0 244.0 486.0 C243.6 508.0 249.5 531.8 260.5 557.5 C271.5 583.2 289.8 617.1 310.0 640.0 C330.2 662.9 365.0 684.9 381.5 695.0 C398.0 705.1 405.3 705.1 409.0 700.5 C412.7 695.9 412.7 684.9 403.5 667.5 C394.3 650.1 366.8 613.4 354.0 596.0 C341.2 578.6 334.8 577.7 326.5 563.0 C318.2 548.3 310.9 527.2 304.5 508.0 C298.1 488.8 294.9 461.2 288.0 447.5 C281.1 433.8 270.3 419.1 263.0 425.5 Z"/>
<path class="q" style="stroke-width:9.45" d="M266.0 450.0 C262.5 455.8 256.0 472.5 257.0 490.0 C258.0 507.5 261.8 532.0 272.0 555.0 C282.2 578.0 300.0 607.2 318.0 628.0 C336.0 648.8 367.2 670.8 380.0 680.0 C392.8 689.2 401.7 695.5 395.0 683.0 C388.3 670.5 353.8 623.8 340.0 605.0 C326.2 586.2 320.0 585.8 312.0 570.0 C304.0 554.2 297.7 529.2 292.0 510.0 C286.3 490.8 282.3 465.0 278.0 455.0 C273.7 445.0 269.5 444.2 266.0 450.0 Z"/>
<path class="p" style="stroke-width:10.80" d="M469.5 312.8 C462.2 316.4 449.3 338.9 447.5 359.5 C445.7 380.1 451.2 411.8 458.5 436.5 C465.8 461.2 475.0 485.1 491.5 508.0 C508.0 530.9 538.2 560.2 557.5 574.0 C576.8 587.8 597.8 590.5 607.0 590.5 C616.2 590.5 616.2 584.1 612.5 574.0 C608.8 563.9 595.1 544.7 585.0 530.0 C574.9 515.3 562.1 498.8 552.0 486.0 C541.9 473.2 531.8 470.4 524.5 453.0 C517.2 435.6 513.5 400.8 508.0 381.5 C502.5 362.2 497.9 349.0 491.5 337.5 C485.1 326.0 476.8 309.1 469.5 312.8 Z"/>
<path class="q" style="stroke-width:9.45" d="M472.0 335.0 C468.5 338.3 461.3 348.3 461.0 365.0 C460.7 381.7 463.2 412.5 470.0 435.0 C476.8 457.5 486.2 478.8 502.0 500.0 C517.8 521.2 549.5 549.5 565.0 562.0 C580.5 574.5 594.2 579.5 595.0 575.0 C595.8 570.5 579.2 548.8 570.0 535.0 C560.8 521.2 549.7 505.3 540.0 492.0 C530.3 478.7 519.3 472.8 512.0 455.0 C504.7 437.2 501.0 403.3 496.0 385.0 C491.0 366.7 486.0 353.3 482.0 345.0 C478.0 336.7 475.5 331.7 472.0 335.0 Z"/>
<circle class="q" style="stroke-width:8.10" cx="266" cy="438" r="6"/><circle class="q" style="stroke-width:8.10" cx="320" cy="575" r="7"/><circle class="q" style="stroke-width:8.10" cx="398" cy="690" r="6"/>
<circle class="q" style="stroke-width:8.10" cx="472" cy="325" r="6"/><circle class="q" style="stroke-width:8.10" cx="532" cy="460" r="7"/><circle class="q" style="stroke-width:8.10" cx="600" cy="578" r="6"/>
<circle class="k" cx="405" cy="362" r="13"/><circle class="k" cx="455" cy="497" r="13"/><circle class="k" cx="546" cy="604" r="13"/>
<path class="p" style="stroke-width:9.45" d="M400 580 L405 560 L440 545 L455 560 L460 585 L470 600 L465 625 L440 640 L420 630 L405 620 L390 595 Z"/>
<path class="q" style="stroke-width:8.10" d="M405 560 L420 575 L425 625 M420 575 L455 560"/>
<circle class="q" style="stroke-width:8.10" cx="440" cy="595" r="9"/>
<path class="t" style="stroke-width:6.75" d="M460 580 L610 500"/>
</g>
<!-- screws 332 -->
<g transform="translate(849 458) rotate(-28)"><rect class="p" x="0" y="-1.6" width="8" height="3.2"/><ellipse class="p" cx="9" cy="0" rx="2" ry="2.8"/></g>
<g transform="translate(860 484) rotate(-28)"><rect class="p" x="0" y="-1.6" width="8" height="3.2"/><ellipse class="p" cx="9" cy="0" rx="2" ry="2.8"/></g>
<g transform="translate(876 508) rotate(-28)"><rect class="p" x="0" y="-1.6" width="8" height="3.2"/><ellipse class="p" cx="9" cy="0" rx="2" ry="2.8"/></g>
<!-- 268 nut, 331 roller -->
<path class="l" d="M905 552 L918 562 M865 576 L880 585"/>
<path class="d" d="M868 561 L890 549 M851 572 L824 587 L752 546 M892 635 L752 554 M892 655 L752 574"/>
<path class="l" d="M734 556 L752 546 M735 564 L752 554 M734 584 L752 574 M892 635 L916 622 M892 655 L914 642"/>
<g transform="translate(897 545) rotate(-20)"><path class="p" d="M-9 -4 L-4.5 -9.5 L4.5 -9.5 L9 -4 L9 4 L4.5 9.5 L-4.5 9.5 L-9 4 Z"/><path class="t" d="M-4.5 -9.5 L-3 -4 L3 -4 L4.5 -9.5 M-3 -4 L-9 -4"/><ellipse class="p" cx="-3" cy="1" rx="4" ry="5.5"/><ellipse class="q" cx="-3" cy="1" rx="2" ry="3"/></g>
<g transform="translate(859 566)"><ellipse class="p" cx="0" cy="0" rx="8.5" ry="10" transform="rotate(-20)"/><ellipse class="k" cx="0" cy="0" rx="8.5" ry="10" transform="rotate(-20)" style="fill:#2a2a2a"/><ellipse class="g" cx="-1" cy="0.5" rx="5.5" ry="7" style="fill:#bbb" transform="rotate(-20)"/><ellipse class="k" cx="-1" cy="0.5" rx="2.5" ry="3.2" transform="rotate(-20)"/></g>
<!-- 272 screws -->
<path class="l" d="M921 599 V611 M921 646 V657"/>
<g transform="translate(913 624) rotate(-30)"><rect class="p" x="0" y="-1.7" width="6" height="3.4"/><path class="p" d="M6 -4 L10 -4 L10 4 L6 4 Z"/><ellipse class="k" cx="9" cy="0" rx="1.6" ry="3"/></g>
<g transform="translate(913 644) rotate(-30)"><rect class="p" x="0" y="-1.7" width="6" height="3.4"/><path class="p" d="M6 -4 L10 -4 L10 4 L6 4 Z"/><ellipse class="k" cx="9" cy="0" rx="1.6" ry="3"/></g>
<!-- 143 bushing right, 274 screw right -->
<path class="l" d="M769 650 V658 M790 654 V667 L803 684"/>
<path class="l" d="M733 524 L743.5 529"/><path class="dd" d="M743.5 529 V620 L758 630"/><path class="d" d="M772 638 L782 644"/>
<g transform="translate(764 633)"><g transform="rotate(30)"><rect class="p" x="0" y="-5" width="8" height="10"/><ellipse class="p" cx="0" cy="0" rx="2" ry="5"/><ellipse class="p" cx="9" cy="0" rx="4.5" ry="7.5"/><ellipse class="k" cx="9.3" cy="0" rx="2.6" ry="5"/><ellipse class="p" cx="9.5" cy="0" rx="1.4" ry="3"/></g></g>
<g transform="translate(785 645) rotate(30)"><rect class="p" x="0" y="-2" width="7" height="4"/><ellipse class="p" cx="9" cy="0" rx="3.2" ry="5.5"/><circle class="k" cx="9" cy="0" r="0.6"/></g>

<!-- lines D E and verticals -->
<path class="l" d="M647 614.6 L662 606.2 M653 630.2 L670.4 620.6 M820 715 L787.5 732.5 M826 731 L790 750"/>
<path class="d" d="M647 614.6 L820 715 M653 630.2 L826 731"/>
<path class="dd" d="M687.2 617.6 V695 M611 688 V574.4 L635.6 561.2 M603.2 569.6 V605.6 L590 610.4"/><path class="l" d="M611 688 L606.5 691"/>

<!-- 90_h134.svg -->
<!-- 134 arm -->
<path class="l" d="M402.6 600.6 L412.2 595.2 M403.8 622.2 L412.2 617.4 M425.4 684 L433.8 679.8 M413.4 687 L390.6 685.8 M403.8 718.8 L412.2 714.6 M340 766.2 L358.7 756.2 M340 711.2 L352.5 703.7"/>
<g transform="translate(345 585) scale(0.12)">
<!-- screws 274 -->
<path class="p" style="stroke-width:12.15" d="M155 185 L155 255 Q180 275 205 255 L205 185 Z"/><ellipse class="p" style="stroke-width:12.15" cx="180" cy="180" rx="44" ry="26"/><ellipse class="k" cx="180" cy="178" rx="9" ry="5"/>
<path class="p" style="stroke-width:12.15" d="M390 105 L390 175 Q415 195 440 175 L440 105 Z"/><ellipse class="p" style="stroke-width:12.15" cx="415" cy="100" rx="44" ry="26"/><ellipse class="k" cx="415" cy="98" rx="9" ry="5"/>
<!-- bushings 143 -->
<path class="p" style="stroke-width:12.15" d="M135 355 L140 425 Q180 455 225 425 L230 355 Z"/><ellipse class="k" cx="182" cy="352" rx="64" ry="38"/><ellipse class="p" style="stroke-width:9.45" cx="182" cy="352" rx="40" ry="22"/>
<path class="p" style="stroke-width:12.15" d="M370 285 L375 355 Q415 385 460 355 L465 285 Z"/><ellipse class="k" cx="417" cy="282" rx="64" ry="38"/><ellipse class="p" style="stroke-width:9.45" cx="417" cy="282" rx="40" ry="22"/>
<!-- arm -->
<path class="p" style="stroke-width:13.50" d="M180 500 Q220 450 350 410 L420 400 Q490 410 520 460 L520 540 L380 590 L370 660 L440 660 Q520 690 520 740 L520 800 L370 850 L360 1000 L300 1180 L290 1200 Q200 1235 100 1200 Q75 1160 90 1125 L100 1060 L100 920 Q70 900 80 830 Z"/>
<path class="q" style="stroke-width:10.80" d="M190 520 Q230 480 350 440 L370 540 M350 440 Q420 420 470 440 L520 460 M370 540 L520 490 M370 540 L290 840 Q280 900 180 905 Q90 900 90 850 M380 540 L300 860 L300 1000 M360 1000 L330 1050 L300 1000"/>
<path class="q" style="stroke-width:10.80" d="M200 530 L320 490 L340 520 L320 545 L210 570 Z M270 500 L280 545"/>
<ellipse class="k" cx="405" cy="455" rx="52" ry="36"/><ellipse class="p" style="stroke-width:9.45" cx="407" cy="460" rx="36" ry="21"/>
<path class="p" style="stroke-width:12.15" d="M170 680 L310 670 L300 770 L180 760 Q150 740 160 700 Z"/>
<path class="q" style="stroke-width:10.80" d="M370 700 L440 665 Q520 690 520 740 L380 770 M380 800 L520 760 L520 800"/>
<ellipse class="q" style="stroke-width:12.15" cx="410" cy="712" rx="40" ry="25"/>
<ellipse class="k" cx="180" cy="855" rx="70" ry="45"/><ellipse class="p" style="stroke-width:10.80" cx="182" cy="862" rx="50" ry="30"/>
<path class="q" style="stroke-width:10.80" d="M90 880 Q180 940 290 880 M95 900 Q180 960 285 900 M100 920 Q180 970 290 920"/>
<path class="q" style="stroke-width:10.80" d="M300 920 L310 1000 M335 810 L340 850 M320 800 Q335 790 340 820 L335 860 Q320 870 318 840 Z"/>
<!-- foot -->
<path class="p" style="stroke-width:13.50" d="M80 1130 Q70 1060 110 1030 L270 1035 L300 1080 L290 1180 Q270 1225 180 1230 Q95 1220 80 1170 Z"/>
<path class="q" style="stroke-width:10.80" d="M110 1025 L110 1110 Q180 1160 270 1110 L270 1035 M95 1150 Q180 1210 285 1150 M90 1165 Q180 1225 290 1165"/>
<ellipse class="q" style="stroke-width:12.15" cx="190" cy="1095" rx="50" ry="25"/>
<!-- 168 screw -->
<path class="p" style="stroke-width:12.15" d="M575 835 L612 830 L612 880 L575 875 Z"/><ellipse class="p" style="stroke-width:12.15" cx="620" cy="855" rx="25" ry="33"/><ellipse class="k" cx="605" cy="855" rx="8" ry="25"/>
</g>
<!-- pins 137 -->
<g transform="translate(345 660) scale(0.12)">
<path class="p" style="stroke-width:12.15" d="M385 370 L385 600 Q360 630 355 660 L475 660 Q470 630 445 600 L445 370 Z"/>
<ellipse class="p" style="stroke-width:18.90" cx="415" cy="668" rx="64" ry="36"/><ellipse class="q" style="stroke-width:13.50" cx="415" cy="655" rx="46" ry="22"/>
<ellipse class="k" cx="415" cy="372" rx="30" ry="16"/>
<path class="q" style="stroke-width:8.10" d="M385 460 L445 460 M385 510 L445 510"/><rect class="k" x="385" y="588" width="60" height="16"/>
<path class="p" style="stroke-width:12.15" d="M150 655 L150 885 Q125 915 120 945 L240 945 Q235 915 210 885 L210 655 Z"/>
<ellipse class="p" style="stroke-width:18.90" cx="180" cy="952" rx="64" ry="36"/><ellipse class="q" style="stroke-width:13.50" cx="180" cy="940" rx="46" ry="22"/>
<ellipse class="k" cx="180" cy="657" rx="30" ry="16"/>
<path class="q" style="stroke-width:8.10" d="M150 745 L210 745 M150 795 L210 795"/><rect class="k" x="150" y="873" width="60" height="16"/>
</g>

<!-- 95_bottom.svg -->
<!-- 157 strip -->
<path class="l" d="M584.5 688 L593.6 693.6 M564.2 697.1 L571.9 701.3 M642.6 709.7 L650.3 714.6 M672 715.3 L681.8 720.2 M607.6 690.1 L611.1 687.3 M681.8 700.6 L687.4 697.1"/>
<path class="q" style="stroke-width:3.51;stroke:#1c1c1c" d="M580.5 714.5 Q580 708 586 704 L592.5 701 L595 704.5 L606.5 698.5"/>

<path class="p" d="M602 688 Q602 684 605 684.5 Q609 686 608.5 690 L607.5 697.5 L602.5 700 L601.5 692 Z"/>
<circle class="q" cx="604.5" cy="691" r="1.2"/>
<path class="p" d="M590 702 L594 700 L596 704 L592 706 Z"/>
<g transform="translate(578.5 703.5)"><ellipse class="p" cx="0" cy="0" rx="3.2" ry="2.8"/><ellipse class="k" cx="0.5" cy="0" rx="1.3" ry="1.3"/></g>
<!-- 158 -->
<g transform="translate(560 660) scale(0.14)">
<path class="p" style="stroke-width:10.80" d="M715 345 L820 275 L860 320 L760 390 Z"/>
<ellipse class="p" style="stroke-width:10.80" cx="842" cy="300" rx="25" ry="36" transform="rotate(30 842 300)"/>
<path class="q" style="stroke-width:9.45" d="M800 290 L840 340 M815 282 L850 330"/>
<path class="p" style="stroke-width:10.80" d="M710 345 L740 335 L760 390 L780 430 L770 450 L690 455 L740 425 Z"/>
<path class="q" style="stroke-width:9.45" d="M720 370 L750 360 M740 425 L770 420"/>
</g>
<g transform="translate(655 717)"><ellipse class="p" cx="0" cy="0" rx="3.2" ry="2.8"/><ellipse class="k" cx="0.5" cy="0" rx="1.3" ry="1.3"/></g>
<!-- 152 -->
<path class="l" d="M752 724.8 L760 720.4 M748 776 L758.4 770.4 M789.6 764.8 L799.2 770.4"/>
<g transform="translate(740 700) scale(0.08)">
<path class="p" style="stroke-width:17.55" d="M290 360 Q300 340 330 330 L420 285 L480 290 L550 390 L570 450 L560 500 L610 570 L620 600 L600 640 L600 760 L560 790 L380 850 L340 820 L300 700 L320 670 L360 650 L380 600 L370 520 L320 440 L290 400 Z"/>
<ellipse class="p" style="stroke-width:21.60" cx="310" cy="395" rx="30" ry="40"/>
<path class="q" style="stroke-width:16.20" d="M320 340 L420 290 L470 300 M330 360 L430 320 L480 320 M350 420 Q400 500 420 560 L440 620 M390 400 Q440 480 450 520 L480 600 M420 380 L460 370 L550 500 L600 570 M460 370 L520 480 L560 500 M540 500 L510 560 L600 640 M560 620 L560 790 M300 700 L380 680 L460 610 M380 850 L360 760 L470 720 L560 720"/>
<circle class="k" cx="410" cy="630" r="28"/>
<circle class="q" style="stroke-width:13.50" cx="440" cy="760" r="28"/>
<g transform="rotate(-30 300 210)"><rect class="p" style="stroke-width:16.20" x="275" y="160" width="50" height="110"/><ellipse class="p" style="stroke-width:16.20" cx="300" cy="160" rx="36" ry="18"/></g>
<g transform="translate(270 840) rotate(-30)"><ellipse class="p" style="stroke-width:21.60" cx="0" cy="0" rx="42" ry="32"/><circle class="q" style="stroke-width:13.50" cx="0" cy="0" r="10"/></g>
</g>
<!-- 341 dashed path & low lines -->
<path class="l" d="M467.5 538.5 L463 544"/><path class="dd" d="M463 544 V612 L492 585"/>
<path class="d" d="M603 572 L698 517 M643 533 L648 531 V600"/>


<g class="lb">
<text transform="translate(314.5 308.7) scale(1 1.05)">148</text>
<text transform="translate(332 318.7) scale(1 1.05)">138</text>
<text transform="translate(369 336.7) scale(1 1.05)">136</text>
<text transform="translate(388.5 312.7) scale(1 1.05)">248</text>
<text transform="translate(264.5 346.2) scale(1 1.05)">151</text>
<text transform="translate(316.5 360.7) scale(1 1.05)">327</text>
<text transform="translate(316.5 374.7) scale(1 1.05)">316</text>
<text transform="translate(315.5 388.7) scale(1 1.05)">147</text>
<text transform="translate(386 410.7) scale(1 1.05)">832</text>
<text transform="translate(468 400.7) scale(1 1.05)">143</text>
<text transform="translate(492.5 418.2) scale(1 1.05)">274</text>
<text transform="translate(212.5 364.7) scale(1 1.05)">284</text>
<text transform="translate(230 375.7) scale(1 1.05)">284</text>
<text transform="translate(246.5 386.7) scale(1 1.05)">259</text>
<text transform="translate(316 461.7) scale(1 1.05)">835</text>
<text transform="translate(506.5 236.2) scale(1 1.05)">148</text>
<text transform="translate(525.5 246.2) scale(1 1.05)">138</text>
<text transform="translate(560 265.7) scale(1 1.05)">136</text>
<text transform="translate(665.5 278.7) scale(1 1.05)">248</text>
<text transform="translate(540 314.7) scale(1 1.05)">337</text>
<text transform="translate(521.5 343.7) scale(1 1.05)">169</text>
<text transform="translate(654.5 382.7) scale(1 1.05)">143</text>
<text transform="translate(695 396.7) scale(1 1.05)">274</text>
<text transform="translate(726.5 330.2) scale(1 1.05)">831</text>
<text transform="translate(596.5 405.7) scale(1 1.05)">352</text>
<text transform="translate(616 416.7) scale(1 1.05)">351</text>
<text transform="translate(629.5 429.2) scale(1 1.05)">343</text>
<text transform="translate(543.5 446.2) scale(1 1.05)">148</text>
<text transform="translate(652.5 446.7) scale(1 1.05)">136</text>
<text transform="translate(935.5 273.2) scale(1 1.05)">325</text>
<text transform="translate(913 283.2) scale(1 1.05)">42</text>
<text transform="translate(898.5 295.2) scale(1 1.05)">339</text>
<text transform="translate(879.5 306.2) scale(1 1.05)">339</text>
<text transform="translate(861.5 317.7) scale(1 1.05)">339</text>
<text transform="translate(842 329.2) scale(1 1.05)">339</text>
<text transform="translate(823 338.7) scale(1 1.05)">338</text>
<text transform="translate(133 420.7) scale(1 1.05)">369</text>
<text transform="translate(141 493.7) scale(1 1.05)">163</text>
<text transform="translate(176.5 499.2) scale(1 1.05)">161</text>
<text transform="translate(154.5 514.2) scale(1 1.05)">284</text>
<text transform="translate(218.5 548.2) scale(1 1.05)">284</text>
<text transform="translate(314.5 515.2) scale(1 1.05)">167</text>
<text transform="translate(272.5 553.2) scale(1 1.05)">304</text>
<text transform="translate(293 565.2) scale(1 1.05)">265</text>
<text transform="translate(316.5 578.2) scale(1 1.05)">149</text>
<text transform="translate(245.5 627.2) scale(1 1.05)">317</text>
<text transform="translate(288.5 652.2) scale(1 1.05)">296</text>
<text transform="translate(465.5 458.2) scale(1 1.05)">285</text>
<text transform="translate(401.5 471.2) scale(1 1.05)">162</text>
<text transform="translate(406 491.2) scale(1 1.05)">285</text>
<text transform="translate(502.5 473.2) scale(1 1.05)">342</text>
<text transform="translate(483 485.2) scale(1 1.05)">145</text>
<text transform="translate(451.5 494.2) scale(1 1.05)">144</text>
<text transform="translate(452.5 522.2) scale(1 1.05)">341</text>
<text transform="translate(522 542.2) scale(1 1.05)">833</text>
<text transform="translate(555.5 559.2) scale(1 1.05)">164</text>
<text transform="translate(427 595.2) scale(1 1.05)">274</text>
<text transform="translate(424.5 616.2) scale(1 1.05)">143</text>
<text transform="translate(717.5 475.2) scale(1 1.05)">129</text>
<text transform="translate(632.5 528.2) scale(1 1.05)">330</text>
<text transform="translate(722 570.2) scale(1 1.05)">281</text>
<text transform="translate(728.5 651.2) scale(1 1.05)">281</text>
<text transform="translate(769.5 667.2) scale(1 1.05)">143</text>
<text transform="translate(812 694.2) scale(1 1.05)">274</text>
<text transform="translate(837.5 443.2) scale(1 1.05)">154</text>
<text transform="translate(878 447.2) scale(1 1.05)">332</text>
<text transform="translate(821 456.2) scale(1 1.05)">156</text>
<text transform="translate(793.5 464.2) scale(1 1.05)">153</text>
<text transform="translate(887 471.2) scale(1 1.05)">332</text>
<text transform="translate(902 497.2) scale(1 1.05)">332</text>
<text transform="translate(857.5 542.2) scale(1 1.05)">155</text>
<text transform="translate(929 569.2) scale(1 1.05)">268</text>
<text transform="translate(890.5 593.2) scale(1 1.05)">331</text>
<text transform="translate(922 596.2) scale(1 1.05)">272</text>
<text transform="translate(922 671.2) scale(1 1.05)">272</text>
<text transform="translate(444 680.2) scale(1 1.05)">168</text>
<text transform="translate(327.5 718.2) scale(1 1.05)">134</text>
<text transform="translate(422.5 714.2) scale(1 1.05)">137</text>
<text transform="translate(325.5 773.2) scale(1 1.05)">137</text>
<text transform="translate(556.5 672.2) scale(1 1.05)">142</text>
<text transform="translate(497.5 700.2) scale(1 1.05)">248</text>
<text transform="translate(574.5 687.2) scale(1 1.05)">157</text>
<text transform="translate(554.5 696.2) scale(1 1.05)">289</text>
<text transform="translate(633 709.2) scale(1 1.05)">289</text>
<text transform="translate(690.5 730.2) scale(1 1.05)">158</text>
<text transform="translate(742 734.7) scale(1 1.05)">159</text>
<text transform="translate(739.5 786.2) scale(1 1.05)">146</text>
<text transform="translate(810 779.2) scale(1 1.05)">152</text>
</g>
</svg>
</body></html>
